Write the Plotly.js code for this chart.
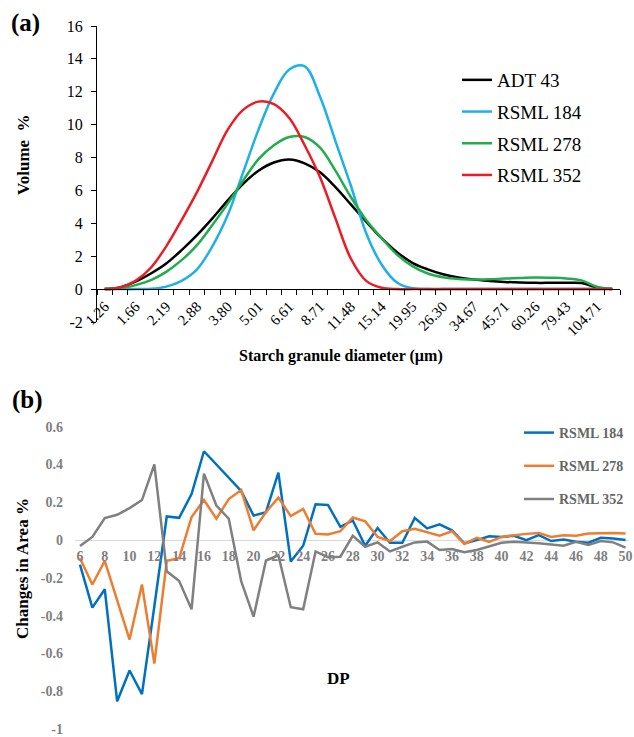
<!DOCTYPE html>
<html>
<head>
<meta charset="utf-8">
<script src="https://cdn.plot.ly/plotly-3.0.1.min.js"></script>
<style>html,body{margin:0;padding:0;background:#fff;}#chart{width:634px;height:737px;}</style>
</head>
<body>
<div id="chart"></div>
<script>
// ---- Panel (a): starch granule size distribution ----
var sizes = ['1.26','1.45','1.66','1.91','2.19','2.51','2.88','3.31','3.80','4.37','5.01','5.75','6.61','7.59','8.71','10.00','11.48','13.18','15.14','17.38','19.95','22.91','26.30','30.20','34.67','39.81','45.71','52.48','60.26','69.18','79.43','91.20','104.71','120.23'];
var adt43   = [0,0.1,0.45,0.95,1.56,2.37,3.28,4.3,5.4,6.4,7.2,7.7,7.88,7.65,7.1,6.2,5.15,4.1,3.1,2.25,1.6,1.2,0.9,0.7,0.58,0.5,0.44,0.4,0.38,0.38,0.38,0.37,0.1,0];
var rsml184 = [0,0,0,0.02,0.15,0.5,1.2,2.6,4.5,7.1,9.7,11.9,13.35,13.55,11.7,9.0,6.3,3.4,1.5,0.4,0.05,0,0,0,0,0,0,0,0,0,0,0,0,0];
var rsml278 = [0,0.04,0.24,0.55,1.05,1.76,2.67,3.9,5.2,6.6,7.9,8.75,9.25,9.25,8.6,7.2,5.6,4.2,3.1,2.1,1.4,0.95,0.72,0.62,0.59,0.6,0.64,0.67,0.71,0.69,0.65,0.53,0.14,0];
var rsml352 = [0,0.1,0.5,1.3,2.6,4.2,5.9,7.8,9.7,10.9,11.4,11.25,10.4,8.75,6.8,4.3,1.86,0.5,0.08,0,0,0,0,0,0,0,0,0,0,0,0,0,0,0];
var volTicks = [-2,0,2,4,6,8,10,12,14,16];

// ---- Panel (b): changes in chain-length distribution ----
var dp = [6,7,8,9,10,11,12,13,14,15,16,17,18,19,20,21,22,23,24,25,26,27,28,29,30,31,32,33,34,35,36,37,38,39,40,41,42,43,44,45,46,47,48,49,50];
var b184 = [-0.13,-0.357,-0.26,-0.853,-0.69,-0.815,-0.35,0.125,0.118,0.244,0.47,0.40,0.33,0.26,0.13,0.148,0.357,-0.113,-0.03,0.19,0.186,0.07,0.104,-0.03,0.064,-0.014,-0.014,0.117,0.062,0.083,0.052,-0.017,0,0.02,0.017,0.023,0,0.026,-0.005,0.003,-0.009,-0.014,0.012,0.009,0];
var b278 = [-0.096,-0.235,-0.11,-0.313,-0.526,-0.235,-0.653,-0.11,-0.096,0.122,0.212,0.113,0.217,0.265,0.052,0.148,0.225,0.127,0.165,0.033,0.03,0.047,0.12,0.10,0.017,-0.005,0.047,0.06,0.043,0.023,0.047,-0.02,0.012,-0.009,0.017,0.026,0.033,0.038,0.017,0.026,0.023,0.035,0.038,0.038,0.035];
var b352 = [-0.031,0.017,0.117,0.134,0.169,0.212,0.40,-0.165,-0.217,-0.366,0.352,0.183,0.113,-0.217,-0.405,-0.108,-0.08,-0.355,-0.366,-0.06,-0.09,-0.088,0.023,-0.035,-0.012,-0.06,-0.035,-0.012,-0.008,-0.052,-0.047,-0.064,-0.052,-0.035,-0.014,-0.009,-0.012,-0.017,-0.023,-0.03,-0.009,-0.026,-0.005,-0.012,-0.04];
var areaTicks = [-1,-0.8,-0.6,-0.4,-0.2,0,0.2,0.4,0.6];

var SERIF = 'Liberation Serif, Times New Roman, serif';
var W = 634, H = 737;
function px(x){return x/W;}
function py(y){return 1-y/H;}

var idx = sizes.map(function(_, i){return i;});
var evenIdx = idx.filter(function(i){return i%2===0;});
var bounds = idx.concat([sizes.length]).map(function(i){return i-0.5;});
function lbl(v){return String(v);}

var traces = [
  {x: idx, y: adt43, name: 'ADT 43', xaxis:'x', yaxis:'y', mode:'lines', line:{color:'#000000', width:2.5, shape:'spline', smoothing:1}, legend:'legend', legendgroup:'a1'},
  {x: idx, y: rsml184, name: 'RSML 184', xaxis:'x', yaxis:'y', mode:'lines', line:{color:'#1EB0E8', width:2.5, shape:'spline', smoothing:1}, legend:'legend', legendgroup:'a2'},
  {x: idx, y: rsml278, name: 'RSML 278', xaxis:'x', yaxis:'y', mode:'lines', line:{color:'#20AD4C', width:2.5, shape:'spline', smoothing:1}, legend:'legend', legendgroup:'a3'},
  {x: idx, y: rsml352, name: 'RSML 352', xaxis:'x', yaxis:'y', mode:'lines', line:{color:'#EC1C24', width:2.5, shape:'spline', smoothing:1}, legend:'legend', legendgroup:'a4'},
  {x: dp, y: b184, name: 'RSML 184', xaxis:'x2', yaxis:'y2', mode:'lines', line:{color:'#0070C0', width:2.5}, legend:'legend2', legendgroup:'b1'},
  {x: dp, y: b278, name: 'RSML 278', xaxis:'x2', yaxis:'y2', mode:'lines', line:{color:'#ED7D31', width:2.5}, legend:'legend2', legendgroup:'b2'},
  {x: dp, y: b352, name: 'RSML 352', xaxis:'x2', yaxis:'y2', mode:'lines', line:{color:'#808080', width:2.5}, legend:'legend2', legendgroup:'b3'}
];

var yA = [py(322), py(26)];
var yB = [py(729.5), py(426.7)];

var layout = {
  width: W, height: H,
  margin: {l:0, r:0, t:0, b:0},
  paper_bgcolor: '#ffffff', plot_bgcolor: 'rgba(0,0,0,0)',
  font: {family: SERIF, color: '#000'},
  xaxis: {
    domain: [px(97), px(620)], anchor: 'free', position: py(289),
    range: [-0.5, sizes.length-0.5],
    tickmode: 'array', tickvals: evenIdx, ticktext: evenIdx.map(function(i){return sizes[i];}),
    tickangle: -45, ticks: '', ticklabelstandoff: 2, tickfont: {family: SERIF, size: 15, color:'#000'},
    minor: {tickmode:'array', tickvals: bounds, ticks:'outside', ticklen:5, tickwidth:1, tickcolor:'#000', showgrid:false},
    showline: true, linecolor: '#000', linewidth: 1,
    showgrid: false, zeroline: false, fixedrange: true
  },
  yaxis: {
    domain: yA, anchor: 'x', range: [-2, 16],
    tickmode: 'array', tickvals: volTicks, ticktext: volTicks.map(lbl),
    ticks: 'outside', ticklen: 5, tickcolor: '#000', ticklabelstandoff: 5,
    tickfont: {family: SERIF, size: 16, color:'#000'},
    showline: true, linecolor: '#000', linewidth: 1,
    showgrid: false, zeroline: false
  },
  xaxis2: {
    domain: [px(75), px(629.3)], anchor: 'free', position: py(541.7),
    range: [5.6, 50.3],
    tickmode: 'array', tickvals: dp.filter(function(d){return d%2===0;}),
    ticks: '', ticklabelstandoff: 4,
    tickfont: {family: SERIF, size: 14, color:'#7F7F7F', weight:'bold'},
    showline: false, showgrid: false, zeroline: false
  },
  yaxis2: {
    domain: yB, anchor: 'x2', range: [-1.002, 0.6],
    tickmode: 'array', tickvals: areaTicks, ticktext: areaTicks.map(lbl),
    ticks: '', ticklabelstandoff: 11, ticklabeloverflow: 'allow',
    tickfont: {family: SERIF, size: 14, color:'#7F7F7F', weight:'bold'},
    showline: false, showgrid: false,
    zeroline: true, zerolinecolor: '#D9D9D9', zerolinewidth: 1
  },
  legend: {
    x: px(457), y: py(61), xanchor: 'left', yanchor: 'top',
    bgcolor: 'rgba(0,0,0,0)', borderwidth: 0,
    font: {family: SERIF, size: 19, color: '#000'},
    traceorder: 'grouped', tracegroupgap: 4
  },
  legend2: {
    x: px(519), y: py(417), xanchor: 'left', yanchor: 'top',
    bgcolor: 'rgba(0,0,0,0)', borderwidth: 0,
    font: {family: SERIF, size: 14, color: '#666666', weight:'bold'},
    traceorder: 'grouped', tracegroupgap: 12
  },
  showlegend: true,
  annotations: [
    {text:'<b>(a)</b>', xref:'paper', yref:'paper', x:px(25), y:py(23), xanchor:'center', yanchor:'middle', showarrow:false, font:{family:SERIF, size:25, color:'#000'}},
    {text:'<b>(b)</b>', xref:'paper', yref:'paper', x:px(27), y:py(400), xanchor:'center', yanchor:'middle', showarrow:false, font:{family:SERIF, size:25, color:'#000'}},
    {text:'<b>Volume  %</b>', xref:'paper', yref:'paper', x:px(23), y:py(155), xanchor:'center', yanchor:'middle', textangle:-90, showarrow:false, font:{family:SERIF, size:17, color:'#000'}},
    {text:'<b>Starch granule diameter (µm)</b>', xref:'paper', yref:'paper', x:px(341), y:py(356), xanchor:'center', yanchor:'middle', showarrow:false, font:{family:SERIF, size:16, color:'#000'}},
    {text:'<b>Changes in Area %</b>', xref:'paper', yref:'paper', x:px(22), y:py(569), xanchor:'center', yanchor:'middle', textangle:-90, showarrow:false, font:{family:SERIF, size:17, color:'#000'}},
    {text:'<b>DP</b>', xref:'paper', yref:'paper', x:px(338), y:py(678), xanchor:'center', yanchor:'middle', showarrow:false, font:{family:SERIF, size:17, color:'#000'}}
  ]
};

Plotly.newPlot('chart', traces, layout, {displayModeBar:false, staticPlot:true});
</script>
</body>
</html>
